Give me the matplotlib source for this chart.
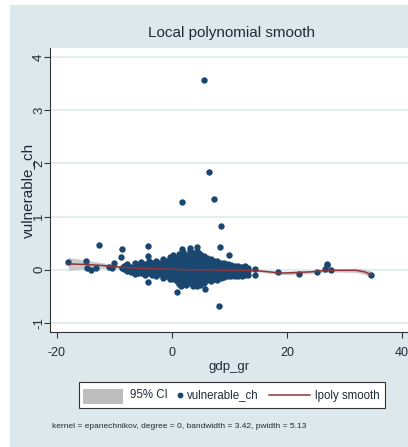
import matplotlib
matplotlib.use("Agg")
import matplotlib.pyplot as plt
from matplotlib.patches import Rectangle
from matplotlib.lines import Line2D
import numpy as np

# ---------------- data ----------------
outlier_x = [5.6, 6.4, 1.7, 7.25, 8.6, 8.2, -12.7, -18.0, -14.9, -14.7, -14.0, -13.2,
             -11.0, -10.4, -10.1, -8.75, -8.9, -8.75, -4.1, -4.1, -4.1, 0.8, 1.5,
             1.8, 3.2, 4.3, 4.5, 5.7, 3.7, 8.35, 9.9, 7.9,
             14.4, 14.4, 12.7, 18.4, 22.0, 25.2, 26.6, 26.9, 27.0, 27.6, 34.6]
outlier_y = [3.57, 1.83, 1.28, 1.33, 0.83, -0.68, 0.46, 0.14, 0.16, 0.03, 0.0, 0.04,
             0.05, 0.03, 0.13, 0.39, 0.24, 0.03, 0.44, 0.25, -0.23, -0.41, -0.30,
             0.39, 0.41, 0.42, 0.32, -0.36, -0.31, 0.42, 0.28, 0.17,
             0.01, -0.09, 0.07, -0.05, -0.08, -0.05, 0.02, 0.09, 0.11, 0.0, -0.10]

cluster_cols = [
    (-8.4, [0.08, 0.01]),
    (-7.8, [0.11, 0.04, -0.03]),
    (-7.1, [0.06, -0.05]),
    (-6.5, [0.12, 0.05, -0.02, -0.08]),
    (-5.9, [0.09, 0.02, -0.06]),
    (-5.3, [0.14, 0.07, 0.0, -0.07]),
    (-4.7, [0.11, 0.03, -0.04, -0.10]),
    (-4.0, [0.16, 0.08, 0.01, -0.06]),
    (-3.4, [0.12, 0.05, -0.02, -0.09]),
    (-2.8, [0.17, 0.09, 0.02, -0.05, -0.12]),
    (-2.2, [0.13, 0.06, -0.01, -0.08]),
    (-1.6, [0.20, 0.12, 0.04, -0.03, -0.10, -0.15]),
    (-1.0, [0.16, 0.08, 0.01, -0.06, -0.12]),
    (-0.4, [0.24, 0.16, 0.09, 0.02, -0.05, -0.12, -0.18]),
    (0.2, [0.27, 0.19, 0.11, 0.04, -0.03, -0.10, -0.17]),
    (0.8, [0.22, 0.14, 0.07, 0.0, -0.07, -0.14, -0.22]),
    (1.3, [0.30, 0.22, 0.15, 0.08, 0.01, -0.06, -0.13, -0.20, -0.26]),
    (1.9, [0.33, 0.25, 0.17, 0.10, 0.03, -0.04, -0.11, -0.18, -0.25]),
    (2.5, [0.28, 0.20, 0.13, 0.06, -0.01, -0.08, -0.15, -0.22, -0.29]),
    (3.1, [0.35, 0.27, 0.19, 0.11, 0.04, -0.03, -0.10, -0.17, -0.24]),
    (3.7, [0.31, 0.23, 0.15, 0.08, 0.01, -0.06, -0.13, -0.20, -0.27]),
    (4.3, [0.36, 0.28, 0.20, 0.12, 0.05, -0.02, -0.09, -0.16, -0.24, -0.31]),
    (4.9, [0.30, 0.22, 0.14, 0.07, 0.0, -0.07, -0.14, -0.21, -0.28]),
    (5.5, [0.26, 0.18, 0.11, 0.04, -0.03, -0.10, -0.17, -0.24]),
    (6.1, [0.23, 0.15, 0.08, 0.01, -0.06, -0.13, -0.20]),
    (6.7, [0.20, 0.13, 0.06, -0.01, -0.08, -0.15, -0.22]),
    (7.3, [0.17, 0.10, 0.03, -0.04, -0.11, -0.18]),
    (7.9, [0.14, 0.07, 0.0, -0.07, -0.14, -0.20]),
    (8.5, [0.12, 0.05, -0.02, -0.09, -0.16]),
    (9.1, [0.13, 0.06, -0.01, -0.08, -0.14]),
    (9.7, [0.10, 0.03, -0.04, -0.11]),
    (10.3, [0.09, 0.02, -0.05, -0.12]),
    (10.9, [0.07, 0.0, -0.07, -0.12]),
    (11.5, [0.08, 0.01, -0.06, -0.11]),
    (12.1, [0.06, -0.01, -0.08, -0.12]),
    (12.7, [0.05, -0.02, -0.09]),
    (13.3, [0.04, -0.03, -0.10]),
]

smooth_x = [-18, -15, -12, -9, -6, -3, 0, 3, 6, 9, 12, 15, 17, 18.5, 20, 22, 24, 26, 28, 30, 32, 33.5, 34.6]
smooth_y = [0.11, 0.10, 0.08, 0.05, 0.03, 0.02, 0.01, 0.0, 0.0, -0.01, -0.01, -0.02, -0.04,
            -0.06, -0.06, -0.05, -0.04, -0.02, -0.01, -0.01, -0.01, -0.04, -0.09]
ci_half = [0.12, 0.08, 0.05, 0.03, 0.02, 0.012, 0.01, 0.01, 0.01, 0.01, 0.012, 0.02, 0.03,
           0.03, 0.035, 0.035, 0.03, 0.03, 0.03, 0.035, 0.04, 0.05, 0.07]

x_ticks = [-20, 0, 20, 40]
y_ticks = [-1, 0, 1, 2, 3, 4]
legend_labels = ['95% CI', 'vulnerable_ch', 'lpoly smooth']

# ---------------- styling ----------------
BG = '#dce8eb'
NAVY = '#1a476f'
MAROON = '#90353b'
CIGRAY = '#bdbdbd'
TXT = '#1f2b38'
plt.rcParams['font.family'] = ['Liberation Sans', 'DejaVu Sans']

W, H = 408, 447
fig = plt.figure(figsize=(W / 100, H / 100), dpi=100, facecolor='white')
fig.patches.append(Rectangle((10 / W, 0), 1 - 10 / W, 1 - 5 / H, transform=fig.transFigure,
                             facecolor=BG, edgecolor='none', zorder=-10))

left, right_px, top, bot = 50, 409, 48, 332
ax = fig.add_axes([left / W, 1 - bot / H, (right_px - left) / W, (bot - top) / H])
ax.set_facecolor('white')
ax.set_xlim(-21.2, 41.2)
ax.set_ylim(-1.17, 4.17)

for yt in y_ticks:
    ax.axhline(yt, color='#e3edf0', lw=1.4, zorder=1)

sx = np.array(smooth_x)
sy = np.array(smooth_y)
ch = np.array(ci_half)
ax.fill_between(sx, sy - ch, sy + ch, color=CIGRAY, alpha=0.8, lw=0, zorder=2)

cx = [c[0] for c in cluster_cols for _ in c[1]]
cy = [v for c in cluster_cols for v in c[1]]
ax.plot(outlier_x + cx, outlier_y + cy, 'o', color=NAVY, markersize=4.6, mew=0, zorder=3)
ax.plot(sx, sy, color=MAROON, lw=1.1, zorder=4)

for s in ['top', 'right']:
    ax.spines[s].set_visible(False)
for s in ['left', 'bottom']:
    ax.spines[s].set_color('#333333')
    ax.spines[s].set_linewidth(0.8)

ax.set_xticks(x_ticks)
ax.set_yticks(y_ticks)
ax.set_xticklabels([str(t) for t in x_ticks], fontsize=9, color=TXT)
ax.set_yticklabels([str(t) for t in y_ticks], fontsize=9.5, color=TXT, rotation=90, va='center')
ax.tick_params(axis='x', length=4.5, width=0.8, color='#333333', pad=6)
ax.tick_params(axis='y', length=4.5, width=0.8, color='#333333', pad=-1)
ax.set_xlabel('gdp_gr', fontsize=9.5, color=TXT, labelpad=2)
ax.set_ylabel('vulnerable_ch', fontsize=11, color=TXT, labelpad=-1)

fig.text(231 / W, 1 - 33 / H, 'Local polynomial smooth', fontsize=11, color=TXT,
         ha='center', va='center')

# ---- legend (drawn in figure pixel coordinates) ----
def fx(px):
    return px / W

def fy(py):
    return 1 - py / H

fig.patches.append(Rectangle((fx(79), fy(408)), fx(385) - fx(79), fy(382) - fy(408),
                             transform=fig.transFigure, facecolor='white',
                             edgecolor='#333333', lw=0.8, zorder=1))
fig.patches.append(Rectangle((fx(83), fy(404)), fx(123) - fx(83), fy(389) - fy(404),
                             transform=fig.transFigure, facecolor=CIGRAY,
                             edgecolor='none', zorder=2))
fig.lines.append(Line2D([fx(180)], [fy(395)], transform=fig.transFigure, marker='o',
                        color=NAVY, markersize=4.2, mew=0, lw=0, zorder=2))
fig.lines.append(Line2D([fx(269), fx(310)], [fy(395), fy(395)], transform=fig.transFigure,
                        color=MAROON, lw=1.1, zorder=2))
for xp, lab in zip([130, 187, 315], legend_labels):
    fig.text(fx(xp), fy(395.5), lab, fontsize=8.3, color=TXT, ha='left', va='center', zorder=3)

fig.text(52 / W, 1 - 427 / H,
         'kernel = epanechnikov, degree = 0, bandwidth = 3.42, pwidth = 5.13',
         fontsize=6, color=TXT, ha='left', va='center')

fig.savefig('out.png', dpi=100, facecolor='white')
